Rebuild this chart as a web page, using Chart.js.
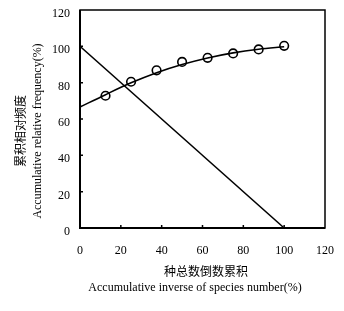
<!DOCTYPE html>
<html lang="zh">
<head>
  <meta charset="UTF-8">
  <title>Accumulative relative frequency</title>
  <script src="https://cdn.jsdelivr.net/npm/chart.js"></script>
  <style>
    html, body { margin: 0; padding: 0; background: #fff; }
    #wrap { position: relative; width: 344px; height: 311px; }
  </style>
</head>
<body>
  <div id="wrap"><canvas id="chartCanvas"></canvas></div>
  <script>
    // observed points
    const obsX = [12.5, 25, 37.5, 50, 62.5, 75, 87.5, 100];
    const obsY = [72.8, 80.5, 86.8, 91.4, 93.7, 96.1, 98.3, 100.3];
    // fitted curve
    const fitX = [0, 12.5, 25, 37.5, 50, 62.5, 75, 87.5, 100];
    const fitY = [66.6, 73.4, 79.9, 85.5, 90.0, 93.6, 96.4, 98.4, 99.8];
    // straight line
    const lineX = [0, 100];
    const lineY = [100, 0];
    const tickValues = [0, 20, 40, 60, 80, 100, 120];
    const yTitle = ['累积相对频度', 'Accumulative relative frequency(%)'];
    const xTitle = ['种总数倒数累积', 'Accumulative inverse of species number(%)'];

    const fontFamily = '"Liberation Serif", "Noto Sans CJK SC", serif';
    const pts = (xs, ys) => xs.map((x, i) => ({ x: x, y: ys[i] }));

    // frame around the plot, small inward ticks and the axis titles
    const framePlugin = {
      id: 'frame',
      afterDraw(chart) {
        const { ctx, chartArea: a, scales } = chart;
        ctx.save();
        ctx.strokeStyle = '#000';
        ctx.lineWidth = 1.5;
        ctx.strokeRect(a.left, a.top, a.right - a.left, a.bottom - a.top);
        ctx.lineWidth = 2;
        ctx.beginPath();
        ctx.moveTo(a.left, a.top);
        ctx.lineTo(a.left, a.bottom);
        ctx.lineTo(a.right, a.bottom);
        ctx.stroke();
        ctx.lineWidth = 1.5;
        ctx.beginPath();
        tickValues.slice(1, -1).forEach(v => {
          const py = scales.y.getPixelForValue(v);
          ctx.moveTo(a.left, py);
          ctx.lineTo(a.left + 3, py);
          const px = scales.x.getPixelForValue(v);
          ctx.moveTo(px, a.bottom);
          ctx.lineTo(px, a.bottom - 3);
        });
        ctx.stroke();

        // titles
        ctx.fillStyle = '#000';
        ctx.font = '12px ' + fontFamily;
        ctx.textAlign = 'center';
        ctx.textBaseline = 'middle';
        ctx.fillText(xTitle[0], 206, 273);
        ctx.fillText(xTitle[1], 195, 288);
        ctx.translate(0, 131);
        ctx.rotate(-Math.PI / 2);
        ctx.fillText(yTitle[0], 0, 22);
        ctx.fillText(yTitle[1], 0, 38);
        ctx.restore();
      }
    };

    const noPad = s => {
      s.paddingLeft = 0;
      s.paddingRight = 0;
      s.paddingTop = 0;
      s.paddingBottom = 0;
    };

    new Chart(document.getElementById('chartCanvas'), {
      type: 'scatter',
      data: {
        datasets: [
          {
            data: pts(fitX, fitY),
            showLine: true,
            borderColor: '#000',
            borderWidth: 1.6,
            pointRadius: 0,
            tension: 0.4,
            cubicInterpolationMode: 'monotone'
          },
          {
            data: pts(lineX, lineY),
            showLine: true,
            borderColor: '#000',
            borderWidth: 1.5,
            pointRadius: 0
          },
          {
            data: pts(obsX, obsY),
            showLine: false,
            pointStyle: 'circle',
            pointRadius: 4.3,
            pointBorderWidth: 1.6,
            pointBorderColor: '#000',
            pointBackgroundColor: '#fff'
          }
        ]
      },
      options: {
        responsive: true,
        maintainAspectRatio: false,
        animation: false,
        layout: { padding: { top: 10, right: 19, left: 0, bottom: 0 } },
        plugins: {
          legend: { display: false },
          tooltip: { enabled: false }
        },
        scales: {
          x: {
            type: 'linear',
            min: 0,
            max: 120,
            afterBuildTicks: s => { s.ticks = tickValues.map(v => ({ value: v })); },
            grid: { display: false, drawTicks: false },
            border: { display: false },
            ticks: { color: '#000', padding: 16, maxRotation: 0, font: { family: fontFamily, size: 12 } },
            afterFit: s => { s.height = 83; noPad(s); }
          },
          y: {
            type: 'linear',
            min: 0,
            max: 120,
            afterBuildTicks: s => { s.ticks = tickValues.map(v => ({ value: v })); },
            grid: { display: false, drawTicks: false },
            border: { display: false },
            ticks: { color: '#000', padding: 10, labelOffset: 4, font: { family: fontFamily, size: 12 } },
            afterFit: s => { s.width = 80; noPad(s); }
          }
        }
      },
      plugins: [framePlugin]
    });
  </script>
</body>
</html>
